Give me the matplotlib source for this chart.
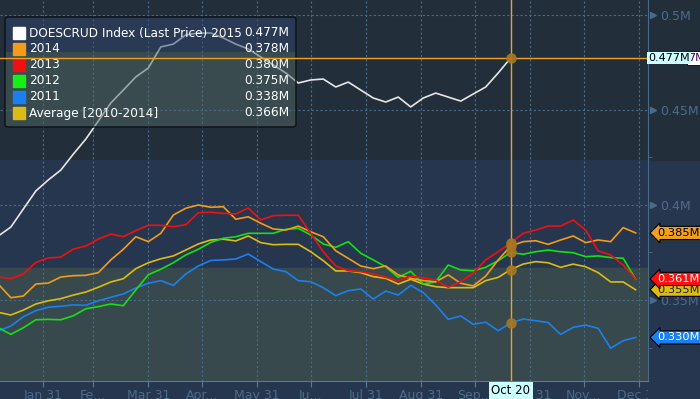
import numpy as np
import pandas as pd
import matplotlib
matplotlib.use("Agg")
import matplotlib.pyplot as plt
import matplotlib.transforms as mtransforms
from matplotlib.patches import Rectangle, FancyBboxPatch

plt.rcParams['font.family'] = ['DejaVu Sans']

# weekly observation dates (one row per week)
weeks = pd.date_range('2015-01-06', periods=52, freq='7D')

# crude inventories, millions of barrels (M)
y2015 = [0.3837, 0.3884, 0.3979, 0.4074, 0.4132, 0.4184, 0.4268, 0.4347, 0.4442, 0.4537,
         0.4605, 0.4674, 0.4721, 0.4832, 0.4847, 0.4895, 0.4905, 0.4905, 0.4879, 0.4847,
         0.4821, 0.4779, 0.4737, 0.4695, 0.4642, 0.4658, 0.4663, 0.4621, 0.4647, 0.4605,
         0.4563, 0.4542, 0.4568, 0.4516, 0.4563, 0.4589, 0.4568, 0.4547, 0.4584, 0.4621,
         0.4695, 0.4774]
y2014 = [0.3583, 0.3512, 0.3521, 0.3584, 0.3589, 0.3621, 0.3628, 0.3630, 0.3644, 0.3711,
         0.3767, 0.3833, 0.3807, 0.3851, 0.3947, 0.3983, 0.4000, 0.3988, 0.3991, 0.3925,
         0.3938, 0.3904, 0.3874, 0.3868, 0.3889, 0.3859, 0.3833, 0.3759, 0.3719, 0.3679,
         0.3665, 0.3679, 0.3632, 0.3614, 0.3602, 0.3596, 0.3632, 0.3588, 0.3574, 0.3626,
         0.3711, 0.3784, 0.3807, 0.3812, 0.3793, 0.3816, 0.3837, 0.3802, 0.3816, 0.3807,
         0.3881, 0.3853]
y2013 = [0.3621, 0.3612, 0.3637, 0.3698, 0.3721, 0.3726, 0.3768, 0.3784, 0.3821, 0.3847,
         0.3833, 0.3865, 0.3893, 0.3893, 0.3886, 0.3896, 0.3959, 0.3962, 0.3956, 0.3953,
         0.3984, 0.3921, 0.3944, 0.3946, 0.3946, 0.3851, 0.3754, 0.3679, 0.3654, 0.3649,
         0.3637, 0.3619, 0.3602, 0.3626, 0.3616, 0.3605, 0.3567, 0.3596, 0.3641, 0.3711,
         0.3754, 0.3800, 0.3851, 0.3868, 0.3889, 0.3889, 0.3921, 0.3868, 0.3759, 0.3737,
         0.3684, 0.3611]
y2012 = [0.3354, 0.3319, 0.3354, 0.3396, 0.3398, 0.3396, 0.3417, 0.3454, 0.3465, 0.3479,
         0.3470, 0.3553, 0.3633, 0.3662, 0.3696, 0.3737, 0.3767, 0.3803, 0.3825, 0.3833,
         0.3851, 0.3851, 0.3851, 0.3872, 0.3877, 0.3842, 0.3795, 0.3777, 0.3807, 0.3746,
         0.3711, 0.3675, 0.3619, 0.3651, 0.3584, 0.3596, 0.3684, 0.3658, 0.3654, 0.3672,
         0.3707, 0.3750, 0.3741, 0.3754, 0.3763, 0.3754, 0.3749, 0.3728, 0.3732, 0.3723,
         0.3720, 0.3609]
y2011 = [0.3338, 0.3363, 0.3412, 0.3444, 0.3462, 0.3467, 0.3474, 0.3472, 0.3496, 0.3514,
         0.3532, 0.3563, 0.3588, 0.3602, 0.3577, 0.3637, 0.3679, 0.3708, 0.3711, 0.3716,
         0.3742, 0.3702, 0.3663, 0.3649, 0.3602, 0.3596, 0.3565, 0.3523, 0.3549, 0.3558,
         0.3505, 0.3547, 0.3526, 0.3577, 0.3539, 0.3474, 0.3398, 0.3416, 0.3372, 0.3383,
         0.3338, 0.3380, 0.3400, 0.3391, 0.3381, 0.3319, 0.3356, 0.3368, 0.3351, 0.3246,
         0.3286, 0.3303]
y_avg = [0.3435, 0.3421, 0.3447, 0.3479, 0.3496, 0.3507, 0.3526, 0.3542, 0.3567, 0.3595,
         0.3612, 0.3665, 0.3696, 0.3717, 0.3732, 0.3763, 0.3795, 0.3816, 0.3820, 0.3811,
         0.3837, 0.3802, 0.3791, 0.3793, 0.3793, 0.3754, 0.3707, 0.3653, 0.3653, 0.3644,
         0.3623, 0.3614, 0.3584, 0.3609, 0.3584, 0.3570, 0.3565, 0.3565, 0.3565, 0.3602,
         0.3619, 0.3660, 0.3689, 0.3702, 0.3696, 0.3672, 0.3689, 0.3675, 0.3644, 0.3595,
         0.3595, 0.3554]

cursor = 41  # Oct 20
band_top = 0.4237
band_low = 0.3668

tick_dates = pd.date_range('2015-01-31', periods=12, freq='ME')
tick_labels = ['Jan 31', 'Fe...', 'Mar 31', 'Apr...', 'May 31', 'Ju...',
               'Jul 31', 'Aug 31', 'Sep...', 'Oct 31', 'Nov...', 'Dec 31']
ytick_vals = [0.35, 0.4, 0.45, 0.5]
ytick_labels = ['0.35M', '0.4M', '0.45M', '0.5M']

series = [
    ('Average [2010-2014]', y_avg, '#dcbc14'),
    ('2011', y2011, '#1a80f0'),
    ('2012', y2012, '#14e014'),
    ('2014', y2014, '#f39c1a'),
    ('2013', y2013, '#f01010'),
]

BG_TOP = '#222f3b'
BG_MID = '#27364f'
BG_LOW = '#37494d'
GRID = '#4a6a8a'
TXT = '#4d6b89'

fig = plt.figure(figsize=(7, 3.99), dpi=100, facecolor=BG_MID)
ax = fig.add_axes([0, 1 - 381 / 399, 648 / 700, 381 / 399])
ax.set_facecolor(BG_TOP)
ax.set_xlim(pd.Timestamp('2015-01-06 22:00'), pd.Timestamp('2016-01-04 22:00'))
ax.set_ylim(0.30737, 0.50789)

ax.axhspan(band_low, band_top, color=BG_MID, zorder=0)
ax.axhspan(0.2, band_low, color=BG_LOW, zorder=0)
# dark strip to the right of the plot
tr_fig_y = mtransforms.blended_transform_factory(fig.transFigure, ax.transData)
ax.add_patch(Rectangle((648 / 700, band_top), 1, 0.2, transform=tr_fig_y,
                       color=BG_TOP, clip_on=False, zorder=0))

ax.grid(True, which='major', color=GRID, ls=(0, (2, 2)), lw=0.8)
for s in ['top', 'left']:
    ax.spines[s].set_visible(False)
ax.spines['bottom'].set_color('#5b7a99')
ax.spines['right'].set_color(GRID)

ax.set_xticks(tick_dates)
ax.set_xticklabels(tick_labels)
ax.tick_params(axis='x', colors='#5b7a99', labelcolor=TXT, labelsize=9, length=4, pad=2)
ax.yaxis.tick_right()
ax.set_yticks(ytick_vals)
ax.set_yticklabels(ytick_labels)
ax.set_yticks([0.325, 0.375, 0.425, 0.475], minor=True)
ax.tick_params(axis='y', which='major', length=0, labelcolor=TXT, labelsize=9, pad=9)
ax.tick_params(axis='y', which='minor', length=3, color=GRID)
tr_ax_y = mtransforms.blended_transform_factory(ax.transAxes, ax.transData)
ax.plot([1.007] * len(ytick_vals), ytick_vals, ls='none', marker='>', ms=5,
        color=GRID, transform=tr_ax_y, clip_on=False)

lab = ax.get_xticklabels()[-1]
lab.set_clip_box(mtransforms.TransformedBbox(mtransforms.Bbox([[0, -0.2], [1, 1]]), ax.transAxes))
lab.set_clip_on(True)

for name, vals, col in series:
    ax.plot(weeks[:len(vals)], vals, color=col, lw=1.2, zorder=2)
ax.plot(weeks[:len(y2015)], y2015, color='#e6e6e6', lw=1.2, zorder=2)

# crosshair
cur_date = weeks[cursor]
ax.axvline(cur_date, color='#f0a020', lw=1, zorder=6)
ax.axhline(y2015[cursor], color='#f0a020', lw=1, zorder=6)
for vals in [y2015, y2014, y2013, y2012, y2011, y_avg]:
    ax.plot(cur_date, vals[cursor], 'o', ms=6.5, color='#a87620', alpha=0.9, zorder=7)


# legend (pixel positions in the 700x399 figure)
def fx(x):
    return x / 700


def fy(y):
    return 1 - y / 399


tf = fig.transFigure
ax.add_patch(Rectangle((fx(5), fy(52)), fx(291), 35 / 399, transform=tf, color='#32456f',
                       alpha=0.5, clip_on=False, zorder=5, lw=0))
ax.add_patch(Rectangle((fx(5), fy(127)), fx(291), 75 / 399, transform=tf, color='#526765',
                       alpha=0.5, clip_on=False, zorder=5, lw=0))
ax.add_patch(FancyBboxPatch((fx(5), fy(127)), fx(291), 110 / 399, transform=tf,
                            boxstyle='round,pad=0,rounding_size=0.006', fc='none',
                            ec='#0b1016', lw=1, clip_on=False, zorder=5))
leg_rows = [('DOESCRUD Index (Last Price) 2015', y2015, '#ffffff'),
            ('2014', y2014, '#f39c1a'),
            ('2013', y2013, '#f01010'),
            ('2012', y2012, '#14f014'),
            ('2011', y2011, '#1a80f0'),
            ('Average [2010-2014]', y_avg, '#dcbc14')]
for k, (name, vals, col) in enumerate(leg_rows):
    yc = 33 + 16 * k
    ax.add_patch(Rectangle((fx(13), fy(yc + 6)), fx(12), 12 / 399, transform=tf, color=col,
                           clip_on=False, zorder=5))
    ax.text(fx(29), fy(yc), name, transform=tf, color='white', fontsize=8.7,
            va='center', ha='left', zorder=5)
    ax.text(fx(289), fy(yc), f'{vals[cursor]:.3f}M', transform=tf, color='white',
            fontsize=8.7, va='center', ha='right', zorder=5)

# value tags on the right axis
tags = [(y_avg[-1], '#dcbc14', '#222222'),
        (y2014[-1], '#f0a020', 'black'),
        (y2013[-1], '#ff1010', 'white'),
        (y2011[-1], '#1a80f0', 'white')]
for val, fc, tc in tags:
    ax.text(1.014, val, f'{val:.3f}M', transform=tr_ax_y, fontsize=8.2, color=tc,
            va='center', ha='left', clip_on=False, zorder=8,
            bbox=dict(boxstyle='larrow,pad=0.14', fc=fc, ec='black', lw=0.8))
ax.text(1.062, y2015[cursor], '7M', transform=tr_ax_y, fontsize=8,
        color='#330066', va='center', ha='left', clip_on=False, zorder=8,
        bbox=dict(boxstyle='square,pad=0.15', fc='white', ec='black', lw=0.6))
ax.text(1.0, y2015[cursor], f'{y2015[cursor]:.3f}M', transform=tr_ax_y, fontsize=8,
        color='black', va='center', ha='left', clip_on=False, zorder=9,
        bbox=dict(boxstyle='square,pad=0.12', fc='#ccffff', ec='none'))

tr_x_ax = mtransforms.blended_transform_factory(ax.transData, ax.transAxes)
ax.text(cur_date, -0.026, cur_date.strftime('%b %d'), transform=tr_x_ax, fontsize=8.5,
        color='black', ha='center', va='center', clip_on=False, zorder=8,
        bbox=dict(boxstyle='square,pad=0.2', fc='#ccffff', ec='none'))

fig.savefig('out.png', dpi=100, facecolor=fig.get_facecolor())
